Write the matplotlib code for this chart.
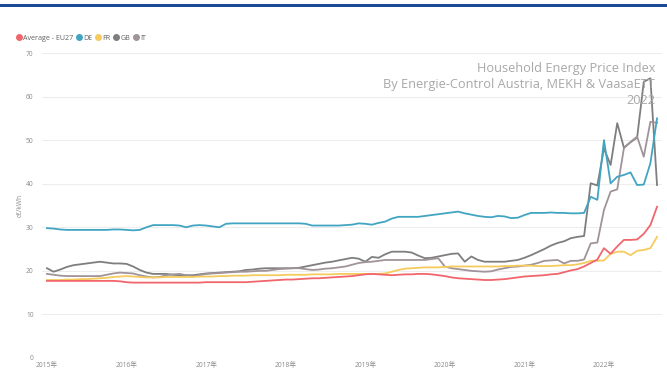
import numpy as np
import matplotlib
matplotlib.use("Agg")
import matplotlib.pyplot as plt
from matplotlib.lines import Line2D
from matplotlib.patches import Rectangle

# monthly series, Jan 2015 .. Sep 2022 (c€/kWh)
years = ["2015年", "2016年", "2017年", "2018年", "2019年", "2020年", "2021年", "2022年"]

eu27 = [17.7, 17.7, 17.7, 17.7, 17.7, 17.7, 17.7, 17.7, 17.7, 17.7, 17.7, 17.6,
        17.4, 17.3, 17.3, 17.3, 17.3, 17.3, 17.3, 17.3, 17.3, 17.3, 17.3, 17.3,
        17.4, 17.4, 17.4, 17.4, 17.4, 17.4, 17.4, 17.5, 17.6, 17.7, 17.8, 17.9,
        18.0, 18.0, 18.1, 18.2, 18.3, 18.3, 18.4, 18.5, 18.6, 18.7, 18.8, 19.0,
        19.2, 19.3, 19.2, 19.1, 19.0, 19.1, 19.2, 19.2, 19.3, 19.3, 19.2, 19.0,
        18.8, 18.5, 18.3, 18.2, 18.1, 18.0, 17.9, 17.9, 18.0, 18.1, 18.3, 18.5,
        18.7, 18.8, 18.9, 19.0, 19.2, 19.3, 19.7, 20.1, 20.4, 21.0, 21.8, 22.6,
        25.2, 23.9, 25.6, 27.1, 27.1, 27.2, 28.5, 30.5, 34.7]

de = [29.8, 29.7, 29.5, 29.4, 29.4, 29.4, 29.4, 29.4, 29.4, 29.4, 29.5, 29.5,
      29.4, 29.3, 29.4, 30.0, 30.5, 30.5, 30.5, 30.5, 30.4, 30.0, 30.4, 30.5,
      30.4, 30.2, 30.0, 30.8, 30.9, 30.9, 30.9, 30.9, 30.9, 30.9, 30.9, 30.9,
      30.9, 30.9, 30.9, 30.8, 30.4, 30.4, 30.4, 30.4, 30.4, 30.5, 30.6, 30.9,
      30.8, 30.6, 31.0, 31.3, 32.0, 32.4, 32.4, 32.4, 32.4, 32.6, 32.8, 33.0,
      33.2, 33.4, 33.6, 33.2, 32.9, 32.6, 32.4, 32.3, 32.6, 32.5, 32.1, 32.2,
      32.8, 33.3, 33.3, 33.3, 33.4, 33.3, 33.3, 33.2, 33.2, 33.3, 37.0, 36.3,
      50.0, 40.1, 41.6, 42.0, 42.6, 39.7, 39.8, 44.7, 55.0]

fr = [17.9, 17.9, 17.9, 18.0, 18.0, 18.1, 18.1, 18.2, 18.3, 18.4, 18.6, 18.7,
      18.8, 18.7, 18.6, 18.5, 18.5, 18.5, 18.6, 18.6, 18.6, 18.6, 18.6, 18.7,
      18.7, 18.7, 18.8, 18.8, 18.9, 18.9, 18.9, 19.0, 19.0, 19.0, 19.0, 19.0,
      19.1, 19.1, 19.1, 19.1, 19.2, 19.2, 19.2, 19.2, 19.3, 19.3, 19.3, 19.3,
      19.3, 19.3, 19.3, 19.4, 19.8, 20.2, 20.5, 20.6, 20.7, 20.8, 20.8, 20.8,
      20.9, 21.0, 21.0, 21.0, 21.0, 21.0, 21.0, 21.0, 21.0, 21.1, 21.1, 21.2,
      21.2, 21.2, 21.1, 21.1, 21.1, 21.2, 21.3, 21.3, 21.5, 21.8, 22.3, 22.3,
      22.4, 23.9, 24.4, 24.4, 23.6, 24.6, 24.8, 25.2, 27.8]

gb = [20.6, 19.8, 20.3, 20.9, 21.3, 21.5, 21.7, 21.9, 22.1, 21.9, 21.7, 21.7,
      21.6, 21.0, 20.2, 19.6, 19.3, 19.3, 19.3, 19.1, 19.0, 19.0, 19.0, 19.2,
      19.4, 19.5, 19.6, 19.7, 19.8, 19.9, 20.2, 20.3, 20.5, 20.6, 20.6, 20.6,
      20.6, 20.6, 20.7, 21.0, 21.3, 21.6, 21.9, 22.1, 22.4, 22.7, 23.0, 22.8,
      22.1, 23.2, 23.0, 23.8, 24.4, 24.4, 24.4, 24.2, 23.5, 22.9, 23.0, 23.3,
      23.6, 23.9, 24.0, 22.1, 23.3, 22.5, 22.1, 22.1, 22.1, 22.1, 22.3, 22.5,
      23.0, 23.6, 24.3, 25.0, 25.8, 26.4, 26.8, 27.5, 27.8, 28.0, 40.1, 39.6,
      48.1, 44.3, 53.9, 48.3, 49.5, 50.6, 63.4, 64.2, 39.7]

it = [19.3, 19.1, 18.9, 18.8, 18.8, 18.8, 18.8, 18.8, 18.8, 19.1, 19.4, 19.6,
      19.5, 19.4, 19.0, 18.7, 18.5, 18.6, 19.0, 19.2, 19.3, 19.0, 18.7, 19.0,
      19.3, 19.4, 19.5, 19.6, 19.7, 19.8, 19.8, 19.9, 20.0, 20.0, 20.2, 20.4,
      20.5, 20.6, 20.6, 20.4, 20.2, 20.3, 20.5, 20.6, 20.8, 21.0, 21.4, 21.8,
      22.0, 22.1, 22.3, 22.5, 22.5, 22.5, 22.5, 22.5, 22.5, 22.5, 22.7, 22.9,
      21.0, 20.6, 20.4, 20.2, 20.0, 19.9, 19.8, 19.9, 20.3, 20.6, 20.9, 21.0,
      21.2, 21.4, 21.8, 22.3, 22.4, 22.5, 21.7, 22.3, 22.3, 22.6, 26.3, 26.5,
      34.0, 38.2, 38.7, 48.1, 49.6, 50.8, 46.2, 54.2, 54.0]

names = ["Average - EU27", "DE", "FR", "GB", "IT"]
colors = ["#F0666C", "#41A5C2", "#F4CB5C", "#7E7E7E", "#A0939A"]

plt.rcParams['font.family'] = ['Open Sans', 'Noto Sans CJK SC', 'DejaVu Sans']

fig = plt.figure(figsize=(6.67, 3.9), dpi=100)
ax = fig.add_axes([42 / 667, 1 - 358 / 390, 620 / 667, 305 / 390])

months = np.arange(len(eu27))
# greys first so the coloured lines sit on top
order = [3, 4, 2, 0, 1]
series = [eu27, de, fr, gb, it]
for i in order:
    ax.plot(months, series[i], color=colors[i], lw=1.3, solid_joinstyle='round')

ax.set_xlim(-0.75, 92.75)
ax.set_ylim(0, 70)
ax.set_yticks(np.arange(0, 71, 10))
ax.set_xticks(np.arange(0, 12 * len(years), 12))
ax.set_xticklabels(years)
ax.tick_params(axis='both', length=0, labelsize=4.8, labelcolor='#8a8a8a')
ax.tick_params(axis='y', pad=6)
ax.tick_params(axis='x', pad=3)
ax.grid(axis='y', color='#ededed', lw=0.8)
ax.set_axisbelow(True)
for s in ax.spines.values():
    s.set_visible(False)
ax.set_ylabel("c€/kWh", fontsize=4.8, color='#8a8a8a', labelpad=2)

# watermark title
fig.text(655 / 667, 1 - 62 / 390,
         "Household Energy Price Index\nBy Energie-Control Austria, MEKH & VaasaETT\n2022",
         ha='right', va='top', fontsize=9.2, color='#a8a8a8', linespacing=1.3,
         transform=fig.transFigure)

# legend
handles = [Line2D([], [], marker='o', ls='none', color=c, markersize=4) for c in colors]
fig.legend(handles, names, loc='center left', bbox_to_anchor=(12 / 667, 1 - 38 / 390),
           ncol=5, frameon=False, fontsize=5.1, handletextpad=0.05, columnspacing=0.35,
           handlelength=1.0, borderpad=0, labelcolor='#606060')

# blue bar at top
fig.add_artist(Rectangle((0, 1 - 7 / 390), 1, 3 / 390, transform=fig.transFigure,
                         color='#1B4B96', lw=0))

fig.savefig("out.png", dpi=100)
